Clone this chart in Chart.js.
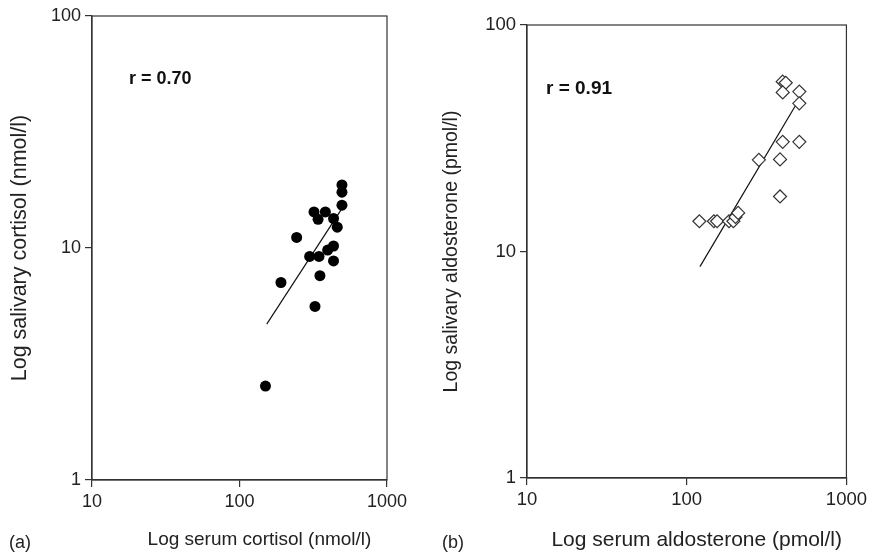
<!DOCTYPE html>
<html>
<head>
<meta charset="utf-8">
<script src="https://cdn.jsdelivr.net/npm/chart.js@4.4.1/dist/chart.umd.min.js"></script>
<style>
  body { margin: 0; background: #fff; width: 871px; height: 557px; position: relative; overflow: hidden; font-family: "Liberation Sans", Arial, sans-serif; }
  .box { position: absolute; top: 0; height: 557px; }
  .lab { position: absolute; font-size: 18px; color: #222; }
</style>
</head>
<body>
<div class="box" style="left:0;width:430px"><canvas id="chartA"></canvas></div>
<div class="box" style="left:430px;width:441px"><canvas id="chartB"></canvas></div>
<div class="lab" style="left:9px;top:532px">(a)</div>
<div class="lab" style="left:442px;top:532px">(b)</div>

<script>
// panel (a): cortisol
const cortisolSerum  = [150, 191, 244, 299, 346, 325, 351, 320, 341, 382, 434, 460, 396, 434, 434, 495, 495, 495];
const cortisolSaliva = [2.54, 7.1, 11.1, 9.2, 9.2, 5.6, 7.6, 14.3, 13.3, 14.3, 13.4, 12.3, 9.8, 10.2, 8.8, 18.7, 17.4, 15.3];
const cortisolFitX = [153, 488];
const cortisolFitY = [4.7, 14.6];

// panel (b): aldosterone
const aldoSerum  = [120, 148, 155, 184, 196, 202, 210, 283, 384, 384, 399, 507, 399, 417, 399, 507, 507];
const aldoSaliva = [13.6, 13.6, 13.6, 13.6, 13.6, 14.2, 14.8, 25.4, 25.5, 17.5, 30.5, 30.5, 56.2, 55.6, 50.4, 50.8, 45.1];
const aldoFitX = [121, 479];
const aldoFitY = [8.57, 44];

const yTicks = [1, 10, 100];
const xTicks = [10, 100, 1000];

function pts(xs, ys) {
    return xs.map(function (x, i) { return { x: x, y: ys[i] }; });
}

// box round the plot, r value and the x title (it sits off-centre in the original)
const frame = {
    id: 'frame',
    afterDraw: function (chart, args, o) {
        const a = chart.chartArea;
        const c = chart.ctx;
        c.save();
        c.strokeStyle = '#333';
        c.lineWidth = 1.2;
        c.strokeRect(a.left, a.top, a.right - a.left, a.bottom - a.top);
        c.fillStyle = '#111';
        c.font = 'bold ' + o.rSize + 'px "Liberation Sans", Arial, sans-serif';
        c.fillText(o.text, a.left + o.dx, a.top + o.dy);
        c.fillStyle = '#222';
        c.font = o.xtSize + 'px "Liberation Sans", Arial, sans-serif';
        c.textAlign = 'center';
        c.textBaseline = 'middle';
        c.fillText(o.xTitle, (a.left + a.right) / 2 + o.xtShift, o.xtY);
        c.restore();
    }
};

function makeChart(id, xs, ys, fx, fy, pointOpts, xTitle, yTitle, box, frameOpts) {
    return new Chart(document.getElementById(id), {
        type: 'scatter',
        data: {
            datasets: [
                Object.assign({ data: pts(xs, ys) }, pointOpts),
                {
                    data: pts(fx, fy),
                    showLine: true,
                    borderColor: '#111',
                    borderWidth: 1.2,
                    pointRadius: 0
                }
            ]
        },
        options: {
            responsive: true,
            maintainAspectRatio: false,
            animation: false,
            layout: { padding: { top: box.top, right: box.right, left: 0, bottom: 0 } },
            plugins: {
                legend: { display: false },
                tooltip: { enabled: false },
                frame: Object.assign({ xTitle: xTitle }, frameOpts)
            },
            scales: {
                x: {
                    type: 'logarithmic',
                    min: 10, max: 1000,
                    afterBuildTicks: function (s) { s.ticks = xTicks.map(function (v) { return { value: v }; }); },
                    afterFit: function (s) { s.height = box.xh; },
                    grid: { drawOnChartArea: false, color: '#333', tickLength: 7, lineWidth: 1.2 },
                    border: { color: '#333', width: 1.2 },
                    ticks: {
                        color: '#222', font: { size: box.tick, family: '"Liberation Sans", Arial' }, padding: 4,
                        maxRotation: 0,
                        callback: function (v) { return String(v); }
                    }
                },
                y: {
                    type: 'logarithmic',
                    min: 1, max: 100,
                    afterBuildTicks: function (s) { s.ticks = yTicks.map(function (v) { return { value: v }; }); },
                    afterFit: function (s) { s.width = box.yw; },
                    grid: { drawOnChartArea: false, color: '#333', tickLength: 7, lineWidth: 1.2 },
                    border: { color: '#333', width: 1.2 },
                    ticks: {
                        color: '#222', font: { size: box.tick, family: '"Liberation Sans", Arial' }, padding: 4,
                        callback: function (v) { return String(v); }
                    },
                    title: { display: true, text: yTitle, color: '#222', font: { size: box.ytSize, family: '"Liberation Sans", Arial' }, padding: { top: box.ytPad, bottom: 0 } }
                }
            }
        },
        plugins: [frame]
    });
}

makeChart('chartA', cortisolSerum, cortisolSaliva, cortisolFitX, cortisolFitY,
    { pointStyle: 'circle', pointRadius: 5.5, pointBackgroundColor: '#000', pointBorderColor: '#000', pointBorderWidth: 0 },
    'Log serum cortisol (nmol/l)', 'Log salivary cortisol (nmol/l)',
    { top: 16, right: 43, xh: 77, yw: 92, tick: 18, ytSize: 21.5, ytPad: 7 },
    { text: 'r = 0.70', rSize: 18, dx: 37, dy: 68, xtSize: 19, xtShift: 20, xtY: 540 });

makeChart('chartB', aldoSerum, aldoSaliva, aldoFitX, aldoFitY,
    { pointStyle: 'rectRot', pointRadius: 6.5, pointBackgroundColor: '#fff', pointBorderColor: '#333', pointBorderWidth: 1.2 },
    'Log serum aldosterone (pmol/l)', 'Log salivary aldosterone (pmol/l)',
    { top: 25, right: 21, xh: 79, yw: 97, tick: 18.5, ytSize: 19.5, ytPad: 10 },
    { text: 'r = 0.91', rSize: 19, dx: 19, dy: 69, xtSize: 21, xtShift: 10, xtY: 540 });
</script>
</body>
</html>
